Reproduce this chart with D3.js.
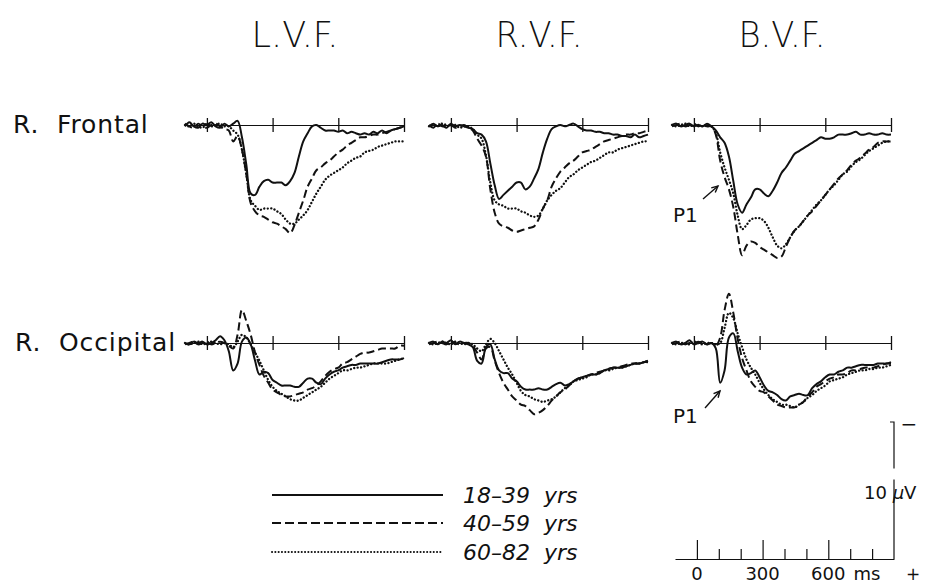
<!DOCTYPE html>
<html>
<head>
<meta charset="utf-8">
<script src="https://cdn.jsdelivr.net/npm/d3@7"></script>
<style>
  body { margin: 0; background: #fff; }
  svg { display: block; }
  text { font-family: "DejaVu Sans", sans-serif; fill: #111; }
</style>
</head>
<body>
<script>
const width = 925;
const height = 583;

// one sample every 20 ms, from -100 to 900 ms
const times = d3.range(-100, 901, 20);

const fields = ["L.V.F.", "R.V.F.", "B.V.F."];
const sites = ["R.  Frontal", "R.  Occipital"];
const groups = ["18\u201339  yrs", "40\u201359  yrs", "60\u201382  yrs"];
const panelTicks = [0, 300, 600, 900];
const scaleTicks = [0, 100, 200, 300, 400, 500, 600, 700, 800];
const scaleMajor = [0, 300, 600];

// amplitudes in microvolts (positive plotted downward)
const frontalLVF_young = [0.1,-0.2,0.1,0.2,-0.1,0,-0.2,0.1,0.2,-0.1, 0.1,-0.1,-0.3,0.9,2.9,5.0,5.1,4.5,4.1,4.0, 4.2,4.2,4.2,4.4,4.1,3.5,2.3,1.2,0.6,0.1, 0,0.2,0.4,0.4,0.4,0.5,0.4,0.6,0.5,0.6, 0.7,0.6,0.7,0.5,0.6,0.4,0.6,0.4,0.3,0.2, 0.1];
const frontalLVF_middle = [-0.1,0.1,0.2,-0.1,0.1,0.2,0,-0.1,0.1,0.3, 0.4,1.2,0.8,1.8,3.6,5.7,6.3,6.6,6.7,6.9, 7.1,7.2,7.4,7.6,7.9,7.3,6.4,5.5,4.5,3.9, 3.3,3.1,2.8,2.6,2.3,2.0,1.8,1.5,1.3,1.1, 0.9,0.9,0.8,0.7,0.7,0.6,0.5,0.4,0.3,0.2, 0.1];
const frontalLVF_old = [0,0.1,-0.1,0.1,0.2,-0.1,0.1,0,-0.1,0.1, 0.1,0.4,0.7,1.8,3.6,5.5,5.9,6.2,6.1,6.1, 6.1,6.3,6.5,6.9,7.2,7.2,6.9,6.6,6.2,5.6, 5.0,4.5,4.0,3.7,3.5,3.3,3.1,2.8,2.6,2.4, 2.3,2.0,1.9,1.8,1.6,1.5,1.4,1.3,1.2,1.2, 1.2];

const frontalRVF_young = [0.1,-0.1,0.1,0,0.2,-0.1,0.1,0,0.1,0.2, 0.3,0.6,0.7,1.2,2.8,4.4,5.4,5.1,4.8,4.5, 4.2,4.2,4.7,4.5,3.9,3.2,2.0,1.0,0.3,0.1, 0,0.1,0,-0.1,0.1,0.3,0.4,0.4,0.5,0.5, 0.6,0.6,0.7,0.7,0.8,0.8,0.9,0.7,0.9,0.8, 0.7];
const frontalRVF_middle = [0,0.2,-0.1,0.1,0.1,0,0.2,0.1,0,0.2, 0.4,1.0,1.5,2.3,4.7,6.4,7.2,7.4,7.5,7.7, 7.8,7.7,7.6,7.5,7.4,6.9,6.1,5.5,4.5,3.9, 3.4,3.1,2.8,2.6,2.3,2.0,1.9,1.8,1.6,1.4, 1.2,1.1,1.0,0.9,0.8,0.7,0.7,0.6,0.6,0.5, 0.4];
const frontalRVF_old = [0.1,0,0.1,-0.1,0,0.1,0,0.2,0.1,0.1, 0.3,0.7,1.0,2.2,4.2,5.5,5.8,5.9,6.1,6.1, 6.1,6.3,6.4,6.6,6.7,6.6,6.1,5.5,5.1,4.8, 4.6,4.2,3.8,3.6,3.3,3.1,2.9,2.7,2.6,2.4, 2.2,2.0,2.0,1.8,1.7,1.6,1.5,1.4,1.3,1.2, 1.2];

const frontalBVF_young = [0,-0.1,0.1,0,-0.1,0.1,0,0.1,-0.1,0.1, 0.4,0.9,1.3,2.3,4.1,5.8,6.4,5.8,5.3,4.7, 4.7,5.0,5.2,4.8,4.2,3.5,3.1,2.6,2.1,1.9, 1.7,1.5,1.3,1.1,0.9,1.0,1.0,0.9,0.7,0.7, 0.7,0.6,0.5,0.7,0.7,0.6,0.7,0.7,0.6,0.7, 0.7];
const frontalBVF_middle = [0.1,0,-0.1,0.1,0,-0.1,0.1,0,0.1,0.1, 0.7,2.6,3.8,4.7,6.0,8.0,9.5,8.8,8.5,8.6, 8.9,9.1,9.3,9.5,9.7,9.6,8.9,8.2,7.7,7.4, 7.0,6.6,6.3,5.9,5.5,5.1,4.7,4.3,3.9,3.6, 3.3,2.9,2.6,2.4,2.1,1.8,1.6,1.3,1.2,1.2, 1.2];
const frontalBVF_old = [0,0.1,0,-0.1,0.1,0,0,0.1,0,0.1, 0.6,2.0,3.1,4.0,5.0,6.6,7.6,7.3,6.9,6.8, 6.8,7.0,7.5,8.2,8.8,9.0,8.7,8.2,7.7,7.4, 7.0,6.6,6.2,5.8,5.5,5.1,4.7,4.4,4.0,3.6, 3.4,3.0,2.7,2.5,2.2,1.9,1.7,1.5,1.3,1.2, 1.2];

const occipitalLVF_young = [0,0.1,-0.1,0,-0.1,0.1,0,-0.2,-0.5,-0.2, 0.6,2.0,1.5,-0.1,-0.4,0.1,1.3,2.3,2.1,2.2, 2.7,2.9,3.1,3.1,3.1,3.2,3.2,2.9,2.6,2.6, 2.9,3.0,2.6,2.3,2.1,2.0,1.8,1.7,1.6,1.6, 1.5,1.5,1.5,1.5,1.5,1.4,1.3,1.2,1.2,1.2, 1.1];
const occipitalLVF_middle = [0.1,0,-0.1,0.1,0,-0.1,0.1,0,-0.1,0, 0.2,0.4,-0.6,-2.4,-1.6,-0.6,0.7,1.6,2.4,2.9, 3.4,3.6,3.8,3.9,3.9,3.8,3.7,3.6,3.4,3.3, 3.1,2.8,2.4,2.1,1.9,1.8,1.5,1.4,1.2,1.0, 0.8,0.7,0.7,0.6,0.5,0.4,0.4,0.4,0.4,0.2, 0.2];
const occipitalLVF_old = [0,0.1,0,-0.1,0.1,0,-0.1,0,0.1,0, 0.1,0.3,-0.1,-0.6,-0.4,0.1,0.7,1.3,2.0,2.7, 3.2,3.5,3.7,3.9,4.1,4.2,4.2,4.0,3.8,3.6, 3.4,3.2,2.9,2.6,2.4,2.2,2.0,2.0,1.9,1.8, 1.8,1.7,1.6,1.5,1.5,1.5,1.5,1.4,1.3,1.2, 1.1];

const occipitalRVF_young = [0,-0.1,0.1,-0.1,0,-0.2,0.1,-0.1,0,0.1, 0.3,1.3,1.5,0.3,0.1,1.2,2.0,2.2,2.2,2.6, 2.8,3.2,3.4,3.4,3.4,3.3,3.4,3.4,3.2,3.0, 2.9,3.1,3.0,2.8,2.6,2.5,2.4,2.3,2.3,2.2, 2.0,1.9,1.8,1.8,1.8,1.7,1.6,1.5,1.5,1.4, 1.3];
const occipitalRVF_middle = [0.1,0,-0.1,0,0.1,-0.1,0,0.1,0,0, 0.2,0.7,1.2,0.4,0.3,1.3,2.2,2.9,3.4,3.9, 4.2,4.5,4.6,4.9,5.2,5.1,4.9,4.6,4.2,3.9, 3.6,3.4,3.1,2.8,2.6,2.5,2.4,2.3,2.2,2.1, 2.0,1.9,1.8,1.8,1.7,1.6,1.5,1.5,1.5,1.4, 1.4];
const occipitalRVF_old = [0,0.1,0,-0.1,0,0.1,-0.1,0,0.1,0, 0.1,0.4,0.6,0.1,-0.3,0,0.6,1.2,1.8,2.3, 2.9,3.5,3.8,3.9,4.1,4.2,4.3,4.2,4.1,3.9, 3.6,3.3,3.1,2.8,2.7,2.6,2.5,2.3,2.3,2.2, 2.0,2.0,1.9,1.8,1.8,1.7,1.6,1.5,1.5,1.4, 1.3];

const occipitalBVF_young = [0,-0.1,0.1,0,-0.2,0.1,0,-0.1,0.1,0, 0.4,2.9,2.0,-0.4,-0.7,0.6,1.8,2.3,2.2,2.0, 2.5,3.1,3.5,3.6,3.8,4.1,4.2,3.9,3.8,3.7, 3.8,3.8,3.3,3.0,2.8,2.5,2.3,2.3,2.1,2.0, 1.8,1.8,1.7,1.6,1.6,1.6,1.6,1.5,1.5,1.5, 1.4];
const occipitalBVF_middle = [0.1,0,-0.1,0.1,0,0,-0.1,0,0.1,0, 0.2,-0.4,-2.4,-3.6,-2.2,-0.3,1.1,2.0,2.8,3.2, 3.5,3.6,3.9,4.2,4.5,4.6,4.7,4.7,4.7,4.5, 4.3,3.9,3.6,3.2,3.0,2.8,2.6,2.5,2.3,2.3, 2.2,2.0,2.0,1.9,1.8,1.8,1.8,1.7,1.6,1.5, 1.5];
const occipitalBVF_old = [0,0.1,0,0,0.1,-0.1,0,0.1,0,0, 0.1,0,-1.1,-2.2,-1.8,-0.7,0.3,1.2,1.8,2.3, 2.9,3.4,3.8,4.1,4.3,4.5,4.5,4.6,4.7,4.5, 4.3,4.0,3.8,3.5,3.3,3.1,2.8,2.7,2.6,2.5, 2.3,2.2,2.1,2.0,2.0,1.9,1.9,1.8,1.8,1.7, 1.6];

const rows = [
  [[frontalLVF_young, frontalLVF_middle, frontalLVF_old],
   [frontalRVF_young, frontalRVF_middle, frontalRVF_old],
   [frontalBVF_young, frontalBVF_middle, frontalBVF_old]],
  [[occipitalLVF_young, occipitalLVF_middle, occipitalLVF_old],
   [occipitalRVF_young, occipitalRVF_middle, occipitalRVF_old],
   [occipitalBVF_young, occipitalBVF_middle, occipitalBVF_old]]
];

// layout
const panelLeft = [185, 429, 672];
const rowBase = [125, 343];
const dashes = [null, "8,4", "0.1,3.4"];
const ink = "#111";

const x = d3.scaleLinear().domain([-100, 900]).range([0, 219]);
const y = d3.scaleLinear().domain([0, 10]).range([0, 137]);   // 10 µV bar

const line = d3.line()
    .x((d, i) => x(times[i]))
    .y(d => y(d))
    .curve(d3.curveCatmullRom);

const svg = d3.select("body").append("svg")
    .attr("width", width)
    .attr("height", height);

// column titles
svg.selectAll(".title")
  .data(fields)
  .join("text")
    .attr("class", "title")
    .attr("x", (d, i) => panelLeft[i] + 110)
    .attr("y", 47)
    .attr("text-anchor", "middle")
    .attr("font-size", 35)
    .attr("font-weight", 300)
    .attr("textLength", 87)
    .attr("lengthAdjust", "spacingAndGlyphs")
    .text(d => d);

// row labels
svg.selectAll(".site")
  .data(sites)
  .join("text")
    .attr("class", "site")
    .attr("x", (d, i) => i ? 15 : 13)
    .attr("y", (d, i) => rowBase[i] + 8)
    .attr("font-size", 25)
    .attr("letter-spacing", 0.9)
    .attr("xml:space", "preserve")
    .style("white-space", "pre")
    .text(d => d);

rows.forEach((row, r) => {
  row.forEach((series, c) => {
    const g = svg.append("g")
        .attr("transform", `translate(${panelLeft[c]},${rowBase[r]})`);

    const axis = g.append("g")
        .call(d3.axisBottom(x).tickValues(panelTicks).tickSize(7).tickSizeOuter(0).tickFormat(""));
    axis.select(".domain").attr("stroke", ink).attr("stroke-width", 1.2);
    axis.selectAll(".tick line").attr("y1", -7).attr("stroke", ink).attr("stroke-width", 1.3);

    g.selectAll(".trace")
      .data(series)
      .join("path")
        .attr("class", "trace")
        .attr("d", line)
        .attr("fill", "none")
        .attr("stroke", ink)
        .attr("stroke-width", (d, i) => i === 2 ? 2.3 : 2)
        .attr("stroke-linecap", (d, i) => i === 2 ? "round" : "butt")
        .attr("stroke-linejoin", "round")
        .attr("stroke-dasharray", (d, i) => dashes[i]);
  });
});

// P1 markers in the B.V.F. column
[[222, 703, 199, 718, 186], [423, 705, 408, 720, 391]].forEach(([ty, x1, y1, x2, y2]) => {
  svg.append("text").attr("x", 673).attr("y", ty).attr("font-size", 20).text("P1");
  svg.append("line")
      .attr("x1", x1).attr("y1", y1).attr("x2", x2).attr("y2", y2)
      .attr("stroke", ink).attr("stroke-width", 1.4);
  const a = Math.atan2(y2 - y1, x2 - x1);
  const hx = (k) => x2 - 7 * Math.cos(a + k);
  const hy = (k) => y2 - 7 * Math.sin(a + k);
  svg.append("path")
      .attr("d", `M${hx(0.45)},${hy(0.45)}L${x2},${y2}L${hx(-0.45)},${hy(-0.45)}`)
      .attr("fill", "none").attr("stroke", ink).attr("stroke-width", 1.4);
});

// legend
const legendY = [495, 523, 552];
const legend = svg.selectAll(".legend")
  .data(groups)
  .join("g")
    .attr("class", "legend")
    .attr("transform", (d, i) => `translate(0,${legendY[i]})`);

legend.append("line")
    .attr("x1", 272).attr("x2", 443)
    .attr("stroke", ink)
    .attr("stroke-width", (d, i) => i === 2 ? 2 : 1.8)
    .attr("stroke-linecap", (d, i) => i === 2 ? "round" : "butt")
    .attr("stroke-dasharray", (d, i) => i === 1 ? "9,4" : i === 2 ? "0.1,3.2" : null);

legend.append("text")
    .attr("x", 463)
    .attr("y", 8)
    .attr("font-size", 22)
    .attr("font-style", "italic")
    .attr("xml:space", "preserve")
    .style("white-space", "pre")
    .text(d => d);

// calibration: time axis and 10 µV bar
const cal = svg.append("g").attr("transform", "translate(675,559)");
const calAxis = cal.append("g")
    .call(d3.axisTop(x).tickValues(scaleTicks).tickSize(10).tickSizeOuter(0).tickFormat(""));
calAxis.select(".domain").attr("stroke", ink).attr("stroke-width", 1.2);
calAxis.selectAll(".tick line")
    .attr("stroke", ink).attr("stroke-width", 1.2)
    .attr("y2", d => scaleMajor.includes(d) ? -19 : -10);

cal.selectAll(".ms")
  .data(scaleMajor)
  .join("text")
    .attr("class", "ms")
    .attr("x", d => x(d))
    .attr("y", 21)
    .attr("text-anchor", "middle")
    .attr("font-size", 18)
    .text(d => d);

cal.append("text").attr("x", 192).attr("y", 21).attr("text-anchor", "middle").attr("font-size", 18).text("ms");
cal.append("text").attr("x", 238).attr("y", 21).attr("text-anchor", "middle").attr("font-size", 17).text("+");

const barX = x(900);
cal.append("path")
    .attr("d", `M${barX},0V${-y(10) + y(4.2)}M${barX},${-y(10) + y(3.4)}V${-y(10)}H${barX - 4}`)
    .attr("fill", "none").attr("stroke", ink).attr("stroke-width", 1.2);
cal.append("text").attr("x", 189).attr("y", -60).attr("font-size", 18)
    .html('10 <tspan font-style="italic">\u00b5</tspan>V');
cal.append("text").attr("x", 234).attr("y", -128).attr("text-anchor", "middle").attr("font-size", 20).text("\u2212");
</script>
</body>
</html>
